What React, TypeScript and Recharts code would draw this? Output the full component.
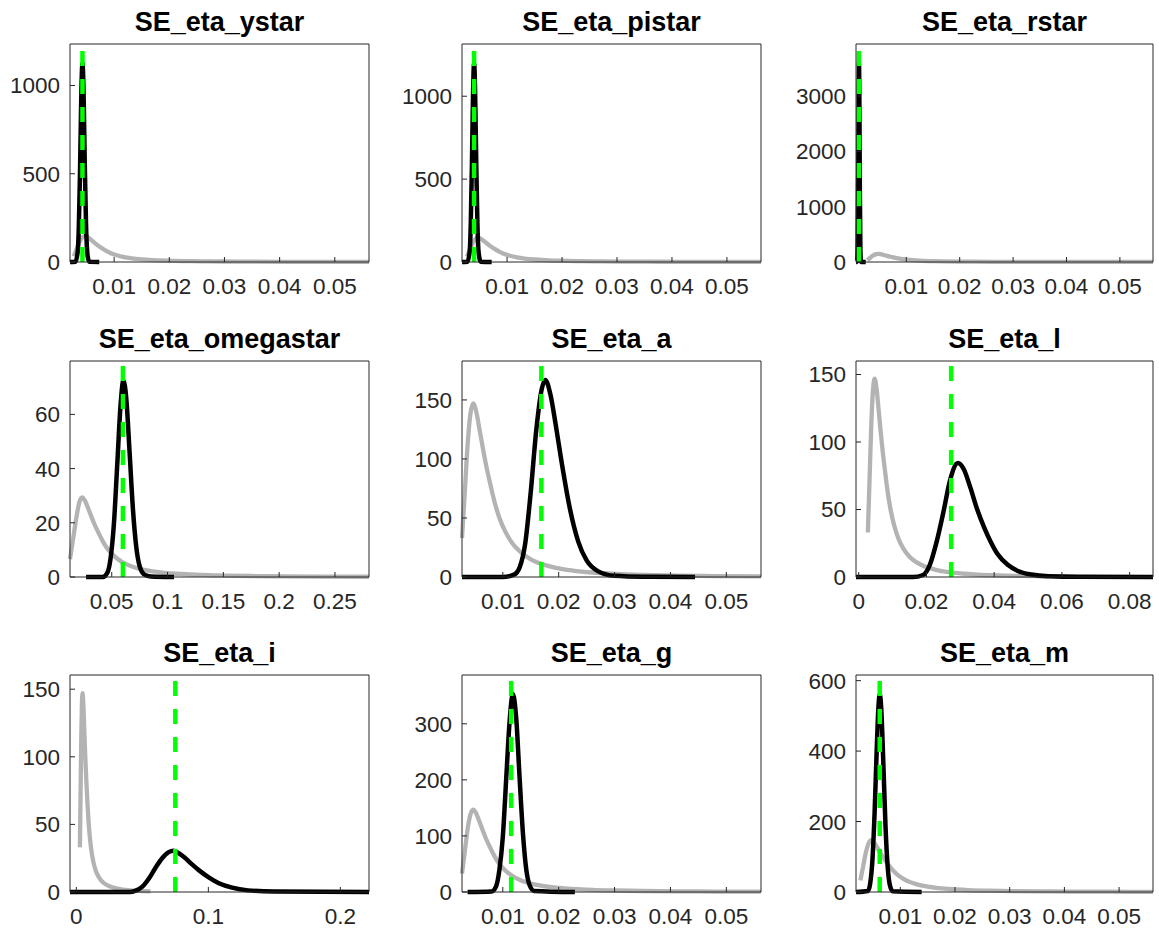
import { LineChart, Line, XAxis, YAxis, ReferenceLine } from "recharts";

type Pt = [number, number];

// grey prior (inverse gamma) shared by the shocks on the 0.01 scale
const priorSmall: Pt[] = [
  [0.0027, 33], [0.0032, 72], [0.0037, 112], [0.0042, 138], [0.0047, 147], [0.0052, 141],
  [0.0058, 126], [0.0064, 110], [0.007, 95], [0.0077, 80], [0.0085, 64], [0.0094, 50],
  [0.0105, 38], [0.0118, 28], [0.0132, 21], [0.015, 15], [0.017, 11], [0.0195, 7.8],
  [0.0225, 5.5], [0.026, 3.8], [0.03, 2.7], [0.035, 1.8], [0.041, 1.2], [0.048, 0.8], [0.0562, 0.5],
];

// grey prior for omegastar (wider)
const priorOmega: Pt[] = [
  [0.0126, 6.6], [0.0155, 14.4], [0.0185, 22.4], [0.021, 27.6], [0.0235, 29.4], [0.026, 28.2],
  [0.029, 25.2], [0.032, 22], [0.035, 19], [0.0385, 16], [0.0425, 12.8], [0.047, 10],
  [0.0525, 7.6], [0.059, 5.6], [0.066, 4.2], [0.075, 3], [0.085, 2.2], [0.0975, 1.56],
  [0.1125, 1.1], [0.13, 0.76], [0.15, 0.54], [0.175, 0.36], [0.205, 0.24], [0.24, 0.16], [0.2805, 0.1],
];

// black posteriors
const postYstar: Pt[] = [
  [0.002, 0], [0.003, 2], [0.0034, 59], [0.0036, 200], [0.0038, 484], [0.004, 860], [0.0041, 1016],
  [0.0042, 1110], [0.00426, 1126], [0.0044, 1040], [0.0045, 890], [0.0047, 520], [0.0049, 220],
  [0.0052, 33], [0.0055, 1], [0.0073, 0],
];
const postPistar: Pt[] = [
  [0.0018, 0], [0.0028, 2], [0.0032, 65], [0.0034, 240], [0.0036, 580], [0.0038, 1000], [0.0039, 1145],
  [0.004, 1199], [0.0041, 1145], [0.0042, 1000], [0.0044, 585], [0.0046, 240], [0.0048, 65],
  [0.0052, 2], [0.0072, 0],
];
const postRstar: Pt[] = [
  [0.00058, 0], [0.0007, 2], [0.0008, 35], [0.0009, 350], [0.001, 1620], [0.00107, 2950], [0.00114, 3590],
  [0.00121, 2950], [0.0013, 1280], [0.0014, 235], [0.0015, 20], [0.0016, 1], [0.0024, 0],
];
const postOmega: Pt[] = [
  [0.027, 0], [0.042, 0], [0.046, 1.5], [0.049, 7], [0.052, 20], [0.055, 42], [0.058, 64], [0.0604, 72.5],
  [0.063, 66], [0.066, 46], [0.069, 25], [0.072, 11], [0.075, 4], [0.079, 1], [0.085, 0.2], [0.1058, 0],
];
const postA: Pt[] = [
  [0.0027, 0], [0.01, 0], [0.012, 2], [0.013, 8], [0.014, 28], [0.015, 72], [0.016, 125], [0.017, 160],
  [0.0176, 167], [0.0185, 155], [0.0195, 128], [0.0205, 98], [0.022, 58], [0.0235, 30], [0.025, 14],
  [0.027, 5], [0.03, 1], [0.035, 0.2], [0.0444, 0],
];
const postL: Pt[] = [
  [-0.0008, 0], [0.016, 0], [0.019, 1.5], [0.021, 9], [0.023, 26], [0.025, 48], [0.027, 72], [0.0293, 84.5],
  [0.031, 80], [0.033, 66], [0.035, 50], [0.037, 37], [0.039, 26], [0.041, 17], [0.044, 9], [0.047, 4.5],
  [0.051, 1.8], [0.056, 0.5], [0.065, 0.1], [0.0869, 0],
];
const postI: Pt[] = [
  [-0.0048, 0], [0.04, 0], [0.045, 1], [0.05, 4], [0.055, 10], [0.06, 18], [0.065, 25], [0.07, 29.5],
  [0.0735, 30.5], [0.077, 29], [0.082, 25.5], [0.087, 21], [0.093, 16], [0.1, 11], [0.108, 6.5],
  [0.118, 3.2], [0.13, 1.2], [0.15, 0.3], [0.2217, 0],
];
const postG: Pt[] = [
  [0.0037, 0], [0.008, 1], [0.0088, 10], [0.0094, 40], [0.01, 98], [0.0106, 200], [0.0112, 302],
  [0.0118, 353], [0.0124, 310], [0.013, 205], [0.0136, 105], [0.0142, 40], [0.0148, 12], [0.0156, 2], [0.0229, 0],
];
const postM: Pt[] = [
  [0.0019, 0], [0.0041, 3], [0.0045, 25], [0.0049, 90], [0.0053, 225], [0.0057, 410], [0.006, 525],
  [0.00625, 562], [0.0065, 525], [0.0069, 365], [0.0073, 185], [0.0077, 70], [0.0081, 19], [0.0086, 2], [0.0139, 0],
];

const titles = [
  "SE_eta_ystar", "SE_eta_pistar", "SE_eta_rstar",
  "SE_eta_omegastar", "SE_eta_a", "SE_eta_l",
  "SE_eta_i", "SE_eta_g", "SE_eta_m",
];
const modes = [0.00426, 0.004, 0.00112, 0.06, 0.0169, 0.0273, 0.075, 0.0115, 0.00624];

const ticksSmall = [0.01, 0.02, 0.03, 0.04, 0.05];
const ticksOmega = [0.05, 0.1, 0.15, 0.2, 0.25];
const ticksL = [0, 0.02, 0.04, 0.06, 0.08];
const ticksI = [0, 0.1, 0.2];

const yTicks = [
  [0, 500, 1000], [0, 500, 1000], [0, 1000, 2000, 3000],
  [0, 20, 40, 60], [0, 50, 100, 150], [0, 50, 100, 150],
  [0, 50, 100, 150], [0, 100, 200, 300], [0, 200, 400, 600],
];

// subplot boxes in page pixels
const colLeft = [70, 462, 856];
const colRight = [369, 761, 1153];
const rowTop = [44, 361, 675];
const rowBottom = [262, 577, 892];

type PanelDef = {
  title: string;
  prior: Pt[];
  post: Pt[];
  mode: number;
  xDomain: [number, number];
  xTicks: number[];
  yMax: number;
  yTicks: number[];
};

const panels: PanelDef[] = [
  { prior: priorSmall, post: postYstar, xDomain: [0.002, 0.0562], xTicks: ticksSmall, yMax: 1235 },
  { prior: priorSmall, post: postPistar, xDomain: [0.0018, 0.0562], xTicks: ticksSmall, yMax: 1315 },
  { prior: priorSmall, post: postRstar, xDomain: [0.00058, 0.0562], xTicks: ticksSmall, yMax: 3940 },
  { prior: priorOmega, post: postOmega, xDomain: [0.0126, 0.2805], xTicks: ticksOmega, yMax: 79.7 },
  { prior: priorSmall, post: postA, xDomain: [0.0027, 0.0562], xTicks: ticksSmall, yMax: 183 },
  { prior: priorSmall, post: postL, xDomain: [-0.0008, 0.0869], xTicks: ticksL, yMax: 160 },
  { prior: priorSmall, post: postI, xDomain: [-0.0048, 0.2217], xTicks: ticksI, yMax: 160.5 },
  { prior: priorSmall, post: postG, xDomain: [0.0027, 0.0562], xTicks: ticksSmall, yMax: 387 },
  { prior: priorSmall, post: postM, xDomain: [0.0019, 0.0562], xTicks: ticksSmall, yMax: 616 },
].map((p, i) => ({ ...p, title: titles[i], mode: modes[i], yTicks: yTicks[i] }) as PanelDef);

const toRows = (pts: Pt[]) => pts.map(([x, y]) => ({ x, y }));

const AXIS = "#262626";
const PAD_L = 70;
const PAD_R = 12;
const PAD_T = 40;
const PAD_B = 50;

function Panel({ p, col, row }: { p: PanelDef; col: number; row: number }) {
  const L = colLeft[col];
  const T = rowTop[row];
  const w = colRight[col] - L;
  const h = rowBottom[row] - T;
  const noLabel = () => "";
  return (
    <div style={{ position: "absolute", left: L - PAD_L, top: T - PAD_T }}>
      <div
        style={{
          position: "absolute",
          left: PAD_L - 20,
          top: PAD_T - 35,
          width: w + 40,
          textAlign: "center",
          fontWeight: "bold",
          fontSize: 27,
          lineHeight: "27px",
          color: "#000",
          whiteSpace: "nowrap",
        }}
      >
        {p.title}
      </div>
      <LineChart width={w + PAD_L + PAD_R} height={h + PAD_T + PAD_B} margin={{ top: 0, right: 0, bottom: 0, left: 0 }}>
        <XAxis
          xAxisId="b"
          type="number"
          dataKey="x"
          domain={p.xDomain}
          ticks={p.xTicks}
          interval={0}
          height={PAD_B}
          tickSize={-5}
          tickMargin={21}
          axisLine={{ stroke: AXIS }}
          tickLine={{ stroke: AXIS }}
          tick={{ fill: AXIS, fontSize: 22.5 }}
        />
        <XAxis
          xAxisId="t"
          orientation="top"
          type="number"
          dataKey="x"
          domain={p.xDomain}
          ticks={p.xTicks}
          interval={0}
          height={PAD_T}
          tickSize={-5}
          tickFormatter={noLabel}
          axisLine={{ stroke: AXIS }}
          tickLine={{ stroke: AXIS }}
        />
        <YAxis
          yAxisId="l"
          type="number"
          domain={[0, p.yMax]}
          ticks={p.yTicks}
          interval={0}
          width={PAD_L}
          tickSize={-5}
          tickMargin={15}
          axisLine={{ stroke: AXIS }}
          tickLine={{ stroke: AXIS }}
          tick={{ fill: AXIS, fontSize: 22.5 }}
        />
        <YAxis
          yAxisId="r"
          orientation="right"
          type="number"
          domain={[0, p.yMax]}
          ticks={p.yTicks}
          interval={0}
          width={PAD_R}
          tickSize={-5}
          tickFormatter={noLabel}
          axisLine={{ stroke: AXIS }}
          tickLine={{ stroke: AXIS }}
        />
        <Line
          xAxisId="b"
          yAxisId="l"
          data={toRows(p.prior)}
          dataKey="y"
          type="monotone"
          stroke="#b3b3b3"
          strokeWidth={4.3}
          dot={false}
          isAnimationActive={false}
        />
        <Line
          xAxisId="b"
          yAxisId="l"
          data={toRows(p.post)}
          dataKey="y"
          type="monotone"
          stroke="#000"
          strokeWidth={4.5}
          dot={false}
          isAnimationActive={false}
        />
        <ReferenceLine
          xAxisId="b"
          yAxisId="l"
          x={p.mode}
          stroke="#00ff00"
          strokeWidth={4.5}
          strokeDasharray="15 13"
        />
      </LineChart>
    </div>
  );
}

export default function App() {
  return (
    <div
      style={{
        position: "absolute",
        left: 0,
        top: 0,
        width: 1159,
        height: 934,
        background: "#fff",
        fontFamily: "'Liberation Sans', Arial, sans-serif",
      }}
    >
      {panels.map((p, i) => (
        <Panel key={p.title} p={p} col={i % 3} row={Math.floor(i / 3)} />
      ))}
    </div>
  );
}
